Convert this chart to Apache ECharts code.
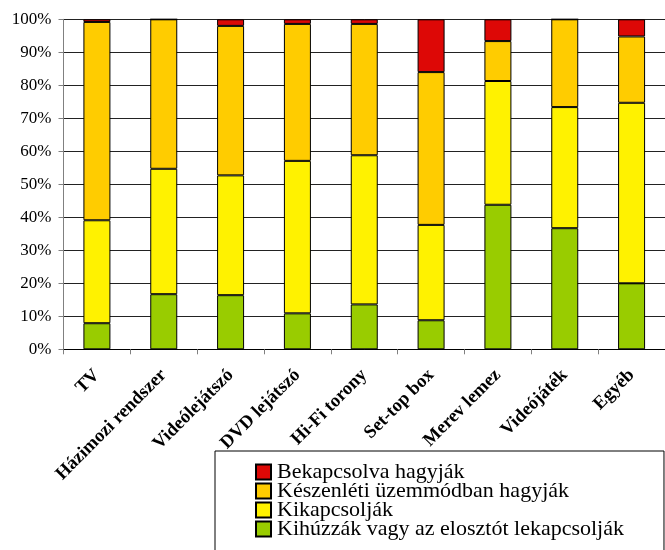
<!DOCTYPE html>
<html>
<head>
<meta charset="utf-8">
<script src="https://cdn.jsdelivr.net/npm/echarts@6/dist/echarts.min.js"></script>
<style>
  html, body { margin: 0; padding: 0; background: #fff; }
  #chart { width: 665px; height: 550px; }
</style>
</head>
<body>
<div id="chart"></div>
<script>
// Device categories along the x axis
const categories = ['TV', 'Házimozi rendszer', 'Videólejátszó', 'DVD lejátszó', 'Hi-Fi torony',
  'Set-top box', 'Merev lemez', 'Videójáték', 'Egyéb'];

// Share of households (%) per behaviour, stacked bottom to top
const unplugged = [7.9, 16.7, 16.4, 10.9, 13.6, 8.8, 43.8, 36.7, 20.0];
const switchedOff = [31.2, 38.0, 36.3, 46.2, 45.2, 28.9, 37.5, 36.7, 54.7];
const standby = [60.1, 45.3, 45.3, 41.5, 39.8, 46.3, 12.1, 26.6, 20.1];
const leftOn = [0.8, 0.0, 2.0, 1.4, 1.4, 16.0, 6.6, 0.0, 5.2];

const seriesNames = ['Kihúzzák vagy az elosztót lekapcsolják', 'Kikapcsolják',
  'Készenléti üzemmódban hagyják', 'Bekapcsolva hagyják'];
const seriesColors = ['#99cc00', '#fff200', '#ffcc00', '#dd0806'];
const yTicks = [0, 10, 20, 30, 40, 50, 60, 70, 80, 90, 100];

const serif = '"Liberation Serif", "Times New Roman", serif';

const chart = echarts.init(document.getElementById('chart'), null, { renderer: 'canvas' });

const stackData = [unplugged, switchedOff, standby, leftOn];

chart.setOption({
  animation: false,
  backgroundColor: '#ffffff',
  grid: { left: 63.5, top: 19.3, width: 610, height: 330 },
  legend: {
    orient: 'vertical',
    left: 215,
    top: 451,
    width: 600,
    height: 200,
    data: [seriesNames[3], seriesNames[2], seriesNames[1], seriesNames[0]],
    itemWidth: 15,
    itemHeight: 15,
    itemGap: -3,
    padding: [10, 40, 20, 40],
    borderColor: '#000',
    borderWidth: 1,
    icon: 'rect',
    textStyle: { fontFamily: serif, fontSize: 22, color: '#000', lineHeight: 19, padding: [0, 0, 0, 1] }
  },
  xAxis: {
    type: 'category',
    data: categories,
    axisLine: { lineStyle: { color: '#000', width: 1 } },
    axisTick: { show: true, length: 5, lineStyle: { color: '#808080' } },
    axisLabel: {
      interval: 0,
      rotate: 45,
      margin: 23,
      fontFamily: serif,
      fontWeight: 'bold',
      fontSize: 18.5,
      color: '#000'
    }
  },
  yAxis: {
    type: 'value',
    min: yTicks[0],
    max: yTicks[yTicks.length - 1],
    interval: 10,
    axisLine: { show: true, lineStyle: { color: '#808080', width: 1 } },
    axisTick: { show: true, length: 5, lineStyle: { color: '#808080' } },
    splitLine: { show: true, lineStyle: { color: '#222', width: 1 } },
    axisLabel: {
      margin: 12,
      fontFamily: serif,
      fontSize: 17,
      color: '#000',
      formatter: v => v + '%'
    }
  },
  series: stackData.map((d, i) => ({
    name: seriesNames[i],
    type: 'bar',
    stack: 'total',
    barWidth: 27,
    data: d,
    itemStyle: { color: seriesColors[i], borderColor: '#000', borderWidth: 1 }
  }))
});
</script>
</body>
</html>
